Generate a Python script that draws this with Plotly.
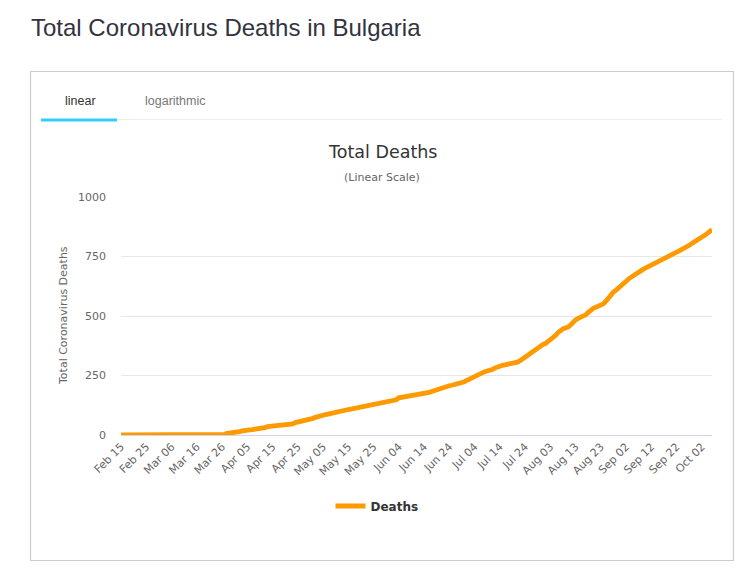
import plotly.graph_objects as go
import pandas as pd

# ---------------- data ----------------
start_date = "2020-02-15"
deaths = (
    [0] * 25 +  # Feb 15 - Mar 10
    [1, 1, 2, 2, 2, 2, 2, 3, 3, 3, 3, 3, 3, 3, 3, 3, 3, 7, 8, 8, 8] +  # Mar 11 - Mar 31
    [10, 14, 17, 20, 20, 22, 23, 24, 24, 25, 28, 31, 35, 36, 38, 38, 40, 41, 42, 43,
     45, 45, 47, 52, 54, 56, 58, 60, 63, 66] +  # Apr
    [70, 74, 78, 82, 84, 86, 88, 91, 93, 96, 98, 101, 103, 105, 107, 109, 111, 113, 115, 117,
     120, 123, 126, 129, 130, 131, 133, 135, 138, 140, 142] +  # May
    [144, 146, 148, 156, 158, 159, 160, 161, 162, 164, 166, 168, 170, 172, 175, 179, 183, 187, 191, 195,
     198, 201, 204, 207, 209, 211, 213, 215, 218, 224] +  # Jun
    [230, 236, 241, 246, 250, 255, 261, 266, 268, 270, 275, 281, 286, 290, 293, 295, 297, 299, 300, 302,
     306, 312, 320, 329, 337, 344, 352, 360, 370, 376, 380] +  # Jul
    [384, 391, 398, 408, 418, 430, 440, 446, 450, 453, 462, 475, 484, 490, 494, 498, 505, 515, 525, 532,
     537, 541, 545, 551, 562, 576, 591, 601, 609, 617, 627] +  # Aug
    [636, 646, 656, 664, 670, 676, 684, 692, 698, 703, 708, 713, 719, 726, 732, 737, 742, 746, 750, 755,
     762, 768, 774, 779, 785, 791, 797, 805, 813, 821] +  # Sep
    [827, 832, 838, 847, 856, 863]  # Oct 1 - Oct 6
)
dates = pd.date_range(start_date, periods=len(deaths), freq="D")
y_ticks = [0, 250, 500, 750, 1000]

# ---------------- layout geometry (pixels) ----------------
W, H = 743, 573
PL, PR, PT, PB = 121, 712, 197, 435


def px_x(x):
    return (x - PL) / (PR - PL)


def px_y(y):
    return (PB - y) / (PB - PT)


fig = go.Figure()
fig.add_trace(go.Scatter(
    x=dates, y=deaths, mode="lines", name="Deaths",
    line=dict(color="#FF9900", width=4.8, shape="linear"),
))

grey_txt = "#666666"
dark_txt = "#333333"
chart_font = "DejaVu Sans"

shapes = [
    # outer box
    dict(type="rect", xref="paper", yref="paper",
         x0=px_x(30.5), x1=px_x(733.5), y0=px_y(71.5), y1=px_y(560.5),
         line=dict(color="#cccccc", width=1.2), fillcolor="rgba(0,0,0,0)", layer="below"),
    # tab baseline
    dict(type="line", xref="paper", yref="paper",
         x0=px_x(41), x1=px_x(722), y0=px_y(119.5), y1=px_y(119.5),
         line=dict(color="#eeeeee", width=1)),
    # active tab underline
    dict(type="line", xref="paper", yref="paper",
         x0=px_x(41), x1=px_x(117), y0=px_y(120), y1=px_y(120),
         line=dict(color="#33ccff", width=3)),
]

annotations = [
    dict(text="Total Coronavirus Deaths in Bulgaria", xref="paper", yref="paper",
         x=px_x(29), y=px_y(27), xanchor="left", yanchor="middle", showarrow=False,
         font=dict(family="Liberation Sans, Arial", size=24, color="#33333f")),
    dict(text="linear", xref="paper", yref="paper",
         x=px_x(80), y=px_y(101), xanchor="center", yanchor="middle", showarrow=False,
         font=dict(family="Liberation Sans, Arial", size=12.5, color="#333333")),
    dict(text="logarithmic", xref="paper", yref="paper",
         x=px_x(175), y=px_y(101), xanchor="center", yanchor="middle", showarrow=False,
         font=dict(family="Liberation Sans, Arial", size=12.5, color="#777777")),
    dict(text="Total Deaths", xref="paper", yref="paper",
         x=px_x(382), y=px_y(152), xanchor="center", yanchor="middle", showarrow=False,
         font=dict(family=chart_font, size=17.5, color=dark_txt)),
    dict(text="(Linear Scale)", xref="paper", yref="paper",
         x=px_x(382), y=px_y(177), xanchor="center", yanchor="middle", showarrow=False,
         font=dict(family=chart_font, size=11, color=grey_txt)),
    dict(text="Total Coronavirus Deaths", xref="paper", yref="paper",
         x=px_x(63), y=px_y(316), xanchor="center", yanchor="middle", showarrow=False,
         textangle=-90, font=dict(family=chart_font, size=11, color=grey_txt)),
]

fig.update_layout(
    width=W, height=H,
    margin=dict(l=PL, r=W - PR, t=PT, b=H - PB, pad=0),
    paper_bgcolor="white", plot_bgcolor="white",
    shapes=shapes, annotations=annotations,
    showlegend=True,
    legend=dict(orientation="h", x=px_x(377), y=px_y(506), xanchor="center", yanchor="middle",
                font=dict(family=chart_font, size=12, color=dark_txt, weight="bold"),
                itemwidth=30, bgcolor="rgba(0,0,0,0)"),
    xaxis=dict(
        type="date", range=[dates[0], dates[-1]],
        tick0=start_date, dtick=10 * 24 * 3600 * 1000, tickformat="%b %d",
        tickangle=-45, showgrid=False, zeroline=False,
        showline=True, linecolor="#ccd6eb", linewidth=1,
        ticks="", tickfont=dict(family=chart_font, size=11, color=grey_txt),
        fixedrange=True,
    ),
    yaxis=dict(
        range=[0, 1000], tickvals=y_ticks, ticktext=[str(v) for v in y_ticks],
        showgrid=True, gridcolor="#e6e6e6", gridwidth=1, zeroline=False,
        ticks="", ticklabelstandoff=14,
        tickfont=dict(family=chart_font, size=11, color=grey_txt),
        fixedrange=True,
    ),
)

fig.write_html("out.html", config={"displayModeBar": False})
